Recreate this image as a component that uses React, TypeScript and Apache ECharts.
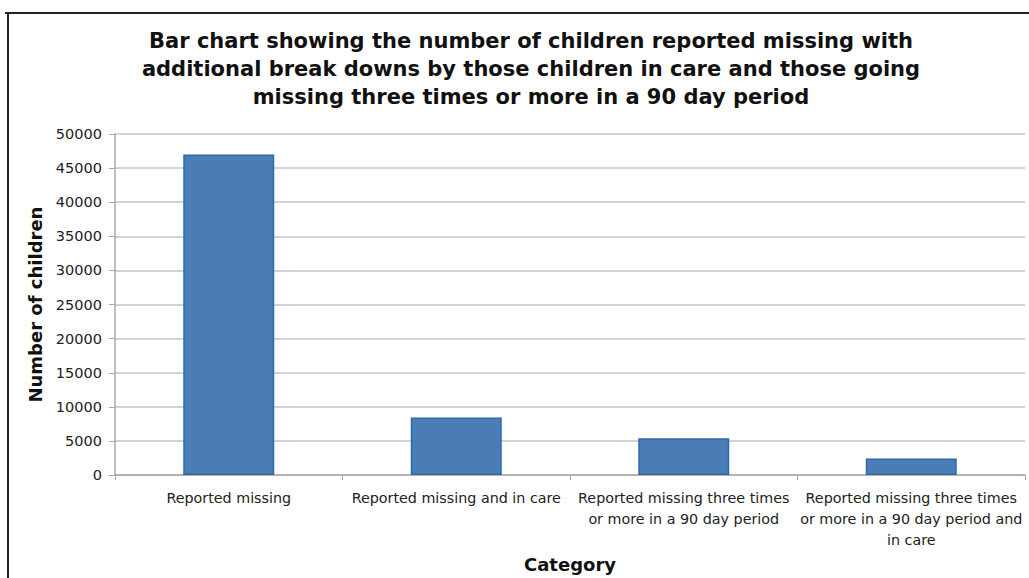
import React, { useEffect, useRef } from "react";
import * as echarts from "echarts";

const titleText =
  "Bar chart showing the number of children reported missing with\nadditional break downs by those children in care and those going\nmissing three times or more in a 90 day period";
const categories = [
  "Reported missing",
  "Reported missing and in care",
  "Reported missing three times\nor more in a 90 day period",
  "Reported missing three times\nor more in a 90 day period and\nin care",
];
const values = [47000, 8450, 5400, 2450];
const yAxisName = "Number of children";
const xAxisName = "Category";

const FONT = "DejaVu Sans, Liberation Sans, Arial, sans-serif";

export default function App() {
  const ref = useRef<HTMLDivElement>(null);
  useEffect(() => {
    document.body.style.margin = "0";
    const chart = echarts.init(ref.current!, null, { renderer: "svg" });
    chart.setOption({
      animation: false,
      backgroundColor: "#ffffff",
      title: {
        text: titleText,
        left: 526,
        top: 22,
        textAlign: "center",
        textStyle: {
          fontFamily: FONT,
          fontWeight: "bold",
          fontSize: 21,
          lineHeight: 28,
          color: "#111",
        },
      },
      graphic: [
        { type: "line", shape: { x1: 5, y1: 13, x2: 1029, y2: 13 }, style: { stroke: "#222", lineWidth: 2 } },
        { type: "line", shape: { x1: 8, y1: 13, x2: 8, y2: 578 }, style: { stroke: "#222", lineWidth: 2 } },
      ],
      grid: { left: 115, right: 4, top: 134, bottom: 99 },
      xAxis: {
        type: "category",
        data: categories,
        name: xAxisName,
        nameLocation: "middle",
        nameGap: 77,
        nameTextStyle: {
          fontFamily: FONT,
          fontWeight: "bold",
          fontSize: 18,
          color: "#111",
        },
        axisLine: { lineStyle: { color: "#a8a8a8", width: 1.5 } },
        axisTick: { show: true, length: 5, lineStyle: { color: "#a8a8a8" } },
        axisLabel: {
          interval: 0,
          margin: 12,
          fontFamily: FONT,
          fontSize: 14.3,
          lineHeight: 21,
          color: "#222",
        },
      },
      yAxis: {
        type: "value",
        min: 0,
        max: 50000,
        interval: 5000,
        name: yAxisName,
        nameLocation: "middle",
        nameGap: 68,
        nameTextStyle: {
          fontFamily: FONT,
          fontWeight: "bold",
          fontSize: 18,
          color: "#111",
        },
        axisLine: { show: true, lineStyle: { color: "#a8a8a8", width: 1.5 } },
        axisTick: { show: true, length: 6, lineStyle: { color: "#a8a8a8" } },
        axisLabel: {
          margin: 13,
          fontFamily: FONT,
          fontSize: 14.5,
          color: "#222",
          formatter: (v: number) => String(v),
        },
        splitLine: { lineStyle: { color: "#c4c4c4", width: 1.5 } },
      },
      series: [
        {
          type: "bar",
          data: values,
          barWidth: "40%",
          itemStyle: { color: "#4a7cb6", borderColor: "#2f68ac", borderWidth: 1.5 },
        },
      ],
    });
    return () => chart.dispose();
  }, []);
  return <div ref={ref} style={{ width: 1029, height: 578 }} />;
}
